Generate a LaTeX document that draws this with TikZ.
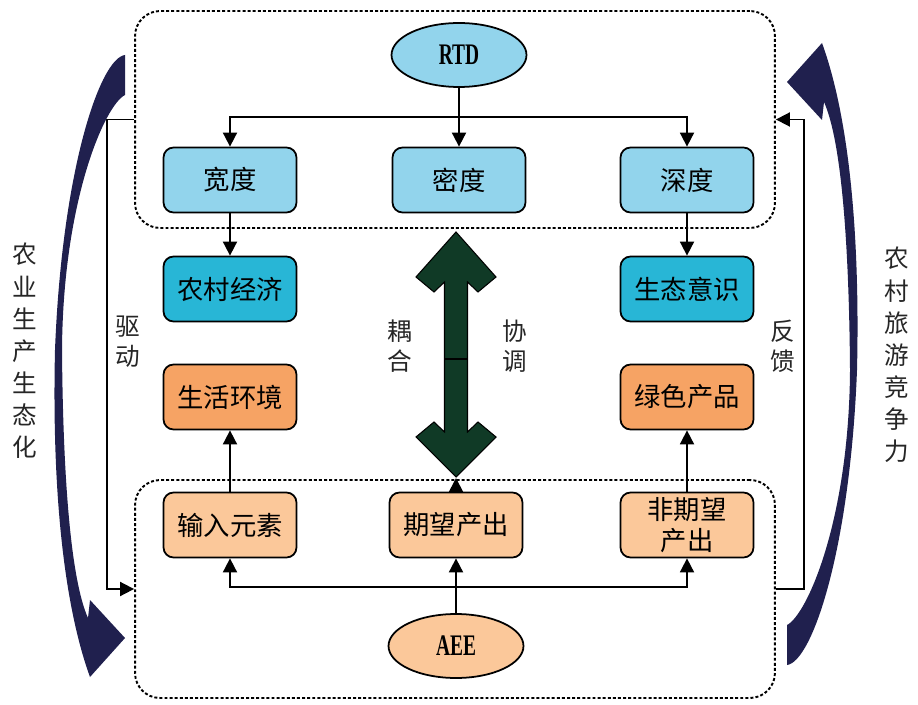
\documentclass[tikz,border=0pt]{standalone}
\usepackage{fontspec}
\setmainfont{Liberation Serif}
\newfontfamily\cjk{Noto Sans CJK SC}
\newfontfamily\ovalfont[FakeStretch=0.65]{Liberation Serif Bold}
\usetikzlibrary{arrows.meta,shapes.geometric}

\definecolor{skyfill}{RGB}{146,212,236}
\definecolor{cyanfill}{RGB}{40,182,214}
\definecolor{orangefill}{RGB}{246,163,100}
\definecolor{peachfill}{RGB}{251,200,154}
\definecolor{couplegreen}{RGB}{16,58,38}
\definecolor{loopnavy}{RGB}{32,32,78}

\tikzset{
  box/.style={draw, line width=1pt, rounded corners=0.2cm, minimum width=2.66cm,
    minimum height=1.3cm, inner sep=1pt, align=center,
    font=\cjk\fontsize{15}{18.5}\selectfont},
  oval/.style={ellipse, draw, line width=1pt, minimum width=2.7cm,
    minimum height=1.28cm, font=\ovalfont\fontsize{17}{20}\selectfont},
  frame/.style={draw, line width=1.1pt, dash pattern=on 1.7pt off 1.2pt,
    rounded corners=0.5cm},
  side/.style={align=center, text=black!85, font=\cjk\fontsize{14}{18.3}\selectfont},
  pair/.style={align=center, text=black!85, font=\cjk\fontsize{14}{17}\selectfont}
}

\begin{document}
\begin{tikzpicture}[x=0.02cm,y=-0.02cm,>={Triangle[length=8pt,width=8pt]},line width=1pt]
  \useasboundingbox (0,0) rectangle (918,705);

  % dashed frames
  \node[frame, minimum width=12.8cm, minimum height=4.34cm] (topframe) at (455,119.5) {};
  \node[frame, minimum width=12.8cm, minimum height=4.36cm] (botframe) at (455,589) {};

  % RTD side
  \node[oval, fill=skyfill] (rtd) at (459,55) {RTD};
  \node[box, fill=skyfill] (kuandu) at (230,180) {宽度};
  \node[box, fill=skyfill] (midu) at (459,180) {密度};
  \node[box, fill=skyfill] (shendu) at (687,180) {深度};
  \node[box, fill=cyanfill] (jingji) at (230,289) {农村经济};
  \node[box, fill=cyanfill] (yishi) at (687,289) {生态意识};

  % AEE side
  \node[box, fill=orangefill] (huanjing) at (230,397) {生活环境};
  \node[box, fill=orangefill] (chanpin) at (687,397) {绿色产品};
  \node[box, fill=peachfill] (shuru) at (230,525) {输入元素};
  \node[box, fill=peachfill] (qiwang) at (456,525) {期望产出};
  \node[box, fill=peachfill, font=\cjk\fontsize{15}{17.5}\selectfont] (feiqiwang) at (687,525) {非期望\\产出};
  \node[oval, fill=peachfill] (aee) at (456,646) {AEE};

  % connectors
  \coordinate (tsplit) at (459,117);
  \coordinate (bsplit) at (456,587);
  \draw[->] (rtd) -- (midu);
  \draw[->] (tsplit) -| (kuandu);
  \draw[->] (tsplit) -| (shendu);
  \draw[->] (kuandu) -- (jingji);
  \draw[->] (shendu) -- (yishi);
  \draw[->] (aee) -- (qiwang);
  \draw[->] (bsplit) -| (shuru);
  \draw[->] (bsplit) -| (feiqiwang);
  \draw[->] (shuru) -- (huanjing);
  \draw[->] (feiqiwang) -- (chanpin);

  % drive and feedback loops
  \draw[->] (topframe.west) -- ++(-27,0) |- (botframe.west);
  \draw[->] (botframe.east) -- ++(28,0) |- (topframe.east);
  \node[pair] (qudong) at (128,342) {驱\\动};
  \node[pair] (fankui) at (783,346) {反\\馈};

  % coupling arrow
  \filldraw[fill=couplegreen, draw=black, line width=0.6pt]
    (456,232) -- (416,277) -- (434,292) -- (444.5,282) -- (444.5,432)
    -- (434,422) -- (416,437) -- (456,477) -- (496,437) -- (478,422)
    -- (467.5,432) -- (467.5,282) -- (478,292) -- (496,277) -- cycle;
  \draw[line width=0.8pt] (444.5,359) -- (467.5,359);
  \coordinate (gtip) at (456,478);
  \draw[->] (qiwang) -- (gtip);
  \node[pair] (ouhe) at (400,346) {耦\\合};
  \node[pair] (xietiao) at (515,346) {协\\调};

  % big curved arrows
  \fill[loopnavy] (125,55) .. controls (100,58) and (62,170) .. (55,350)
    .. controls (52,480) and (62,600) .. (90,677) -- (125,638) -- (90,600)
    -- (88,618) .. controls (71,580) and (63,480) .. (62,350)
    .. controls (63,200) and (105,105) .. (125,95) -- cycle;
  \begin{scope}[rotate around={180:(456,360)}]
    \fill[loopnavy] (125,55) .. controls (100,58) and (62,170) .. (55,350)
      .. controls (52,480) and (62,600) .. (90,677) -- (125,638) -- (90,600)
      -- (88,618) .. controls (71,580) and (63,480) .. (62,350)
      .. controls (63,200) and (105,105) .. (125,95) -- cycle;
  \end{scope}
  \node[side] (nongye) at (25,351) {农\\业\\生\\产\\生\\态\\化};
  \node[side] (lvyou) at (897,355) {农\\村\\旅\\游\\竞\\争\\力};
\end{tikzpicture}
\end{document}
